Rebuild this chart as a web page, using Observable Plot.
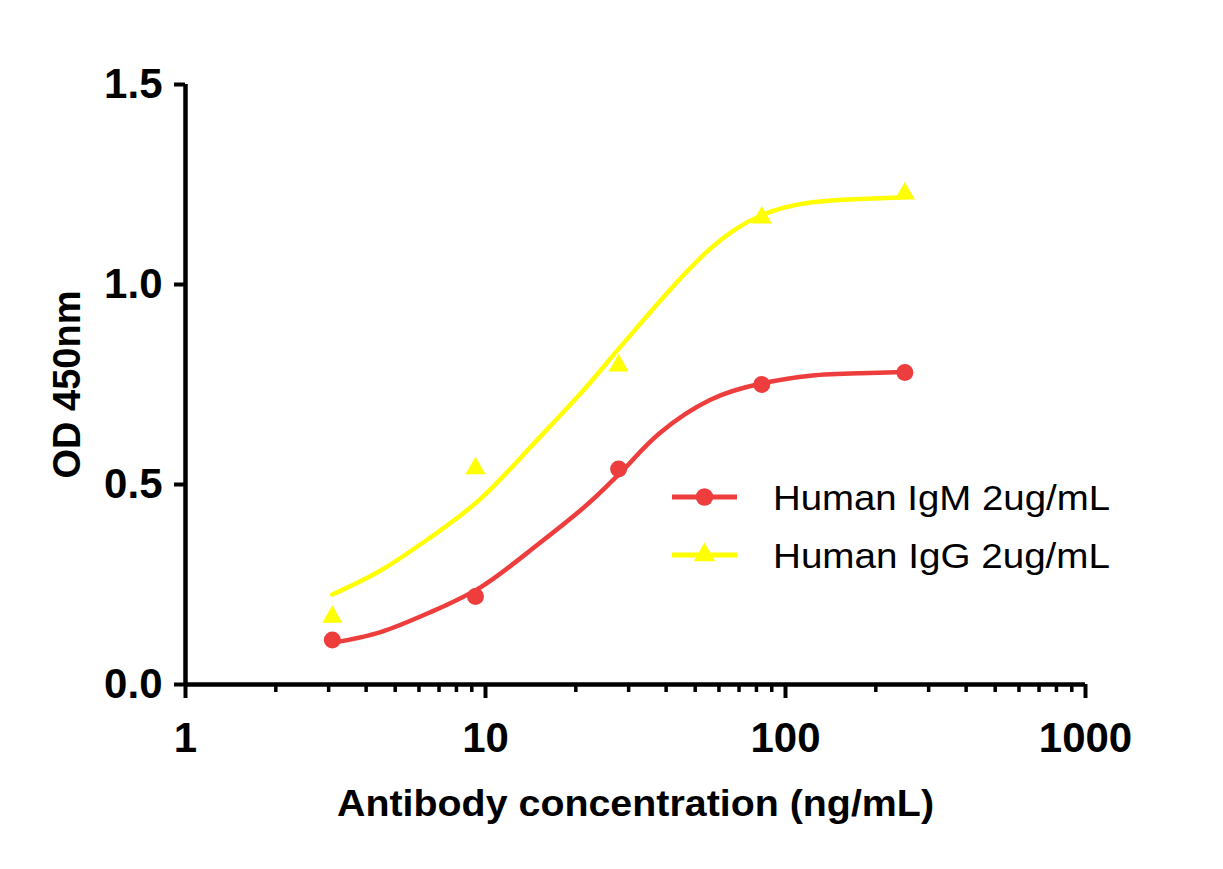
<!DOCTYPE html>
<html><head><meta charset="utf-8">
<script src="https://cdn.jsdelivr.net/npm/d3@7"></script>
<script src="https://cdn.jsdelivr.net/npm/@observablehq/plot@0.6"></script>
<style>body{margin:0;background:#fff}#chart{width:1223px;height:869px}</style>
</head><body><div id="chart"></div>
<script>
// measured data (3-fold dilutions)
const concentrations = [3.086, 9.259, 27.78, 83.33, 250];
const igmOD = [0.111, 0.220, 0.539, 0.750, 0.780];
const iggOD = [0.169, 0.540, 0.797, 1.167, 1.227];
// fitted curves
const fitConc = [3.086, 4.47, 6.56, 9.62, 14.1, 20.7, 26.1, 30.4, 38.3, 56.2, 82.5, 121, 178, 250];
const igmFit  = [0.104, 0.131, 0.181, 0.243, 0.335, 0.435, 0.505, 0.555, 0.630, 0.712, 0.752, 0.772, 0.778, 0.781];
const iggFit  = [0.225, 0.285, 0.368, 0.464, 0.593, 0.727, 0.815, 0.873, 0.960, 1.090, 1.172, 1.205, 1.214, 1.218];
const seriesNames = ["Human IgM 2ug/mL", "Human IgG 2ug/mL"];
const seriesColors = ["#ee3d3d", "#ffff00"];
const seriesSymbols = ["circle", "triangle"];
const majorTicks = [1, 10, 100, 1000];
const minorTicks = [2,3,4,5,6,7,8,9,20,30,40,50,60,70,80,90,200,300,400,500,600,700,800,900];
const yTicks = [0, 0.5, 1.0, 1.5];
const xTitle = "Antibody concentration (ng/mL)";
const yTitle = "OD 450nm";

const fitRows = [];
fitConc.forEach((c, i) => {
  fitRows.push({series: seriesNames[0], c, od: igmFit[i]});
  fitRows.push({series: seriesNames[1], c, od: iggFit[i]});
});
const pointRows = [];
concentrations.forEach((c, i) => {
  pointRows.push({series: seriesNames[0], c, od: igmOD[i]});
  pointRows.push({series: seriesNames[1], c, od: iggOD[i]});
});

const font = "'Liberation Sans', Arial, Helvetica, sans-serif";
const plot = Plot.plot({
  width: 1223, height: 869,
  marginLeft: 185, marginRight: 138, marginTop: 84, marginBottom: 185,
  style: {fontFamily: font, background: "#fff", color: "#000", overflow: "visible"},
  x: {type: "log", domain: [1, 1000]},
  y: {domain: [0, 1.5]},
  color: {domain: seriesNames, range: seriesColors},
  symbol: {domain: seriesNames, range: seriesSymbols},
  marks: [
    Plot.axisX(minorTicks, {tickSize: 8, strokeWidth: 3.5, text: null, label: null}),
    Plot.axisX(majorTicks, {tickSize: 14, strokeWidth: 4, tickPadding: 24, fontSize: 42, fontWeight: "bold", tickFormat: d => String(d), label: null}),
    Plot.axisY(yTicks, {tickSize: 11, strokeWidth: 4, tickPadding: 12, fontSize: 42, fontWeight: "bold", tickFormat: d => d.toFixed(1), label: null}),
    Plot.text([xTitle], {frameAnchor: "bottom", dy: 131, fontSize: 37, fontWeight: "bold", textAnchor: "middle", className: "xtitle"}),
    Plot.text([yTitle], {frameAnchor: "left", dx: -118, rotate: -90, fontSize: 38, fontWeight: "bold", textAnchor: "middle"}),
    Plot.ruleX([1], {strokeWidth: 4.5}),
    Plot.ruleY([0], {strokeWidth: 4.5, x1: 1, x2: 1000}),
    Plot.line(fitRows, {x: "c", y: "od", z: "series", stroke: "series", strokeWidth: 4.5, curve: "natural"}),
    Plot.dot(pointRows.filter(d => d.series === seriesNames[0]), {x: "c", y: "od", r: 8.5, fill: "series", symbol: "series", stroke: "none"}),
    Plot.dot(pointRows.filter(d => d.series === seriesNames[1]), {x: "c", y: "od", r: 7.5, fill: "series", symbol: "series", stroke: "none"})
  ]
});
document.getElementById("chart").appendChild(plot);

const svg = d3.select(plot);
// the reference text is slightly wider than Arial: stretch the x title
svg.select(".xtitle text").attr("textLength", 597).attr("lengthAdjust", "spacingAndGlyphs");

// legend
const lg = svg.append("g").style("font-family", font).style("font-size", "35px");
seriesNames.forEach((name, i) => {
  const y = 497 + i * 58;
  const g = lg.append("g");
  g.append("line").attr("x1", 672).attr("x2", 737).attr("y1", y).attr("y2", y)
    .attr("stroke", seriesColors[i]).attr("stroke-width", 5);
  g.append("path").attr("transform", `translate(704.5,${y})`)
    .attr("d", d3.symbol(i === 0 ? d3.symbolCircle : d3.symbolTriangle, i === 0 ? 240 : 200)())
    .attr("fill", seriesColors[i]);
  g.append("text").attr("x", 773).attr("y", y).attr("dy", "0.36em")
    .style("text-anchor", "start")
    .attr("textLength", 337).attr("lengthAdjust", "spacingAndGlyphs")
    .text(name);
});
</script></body></html>
